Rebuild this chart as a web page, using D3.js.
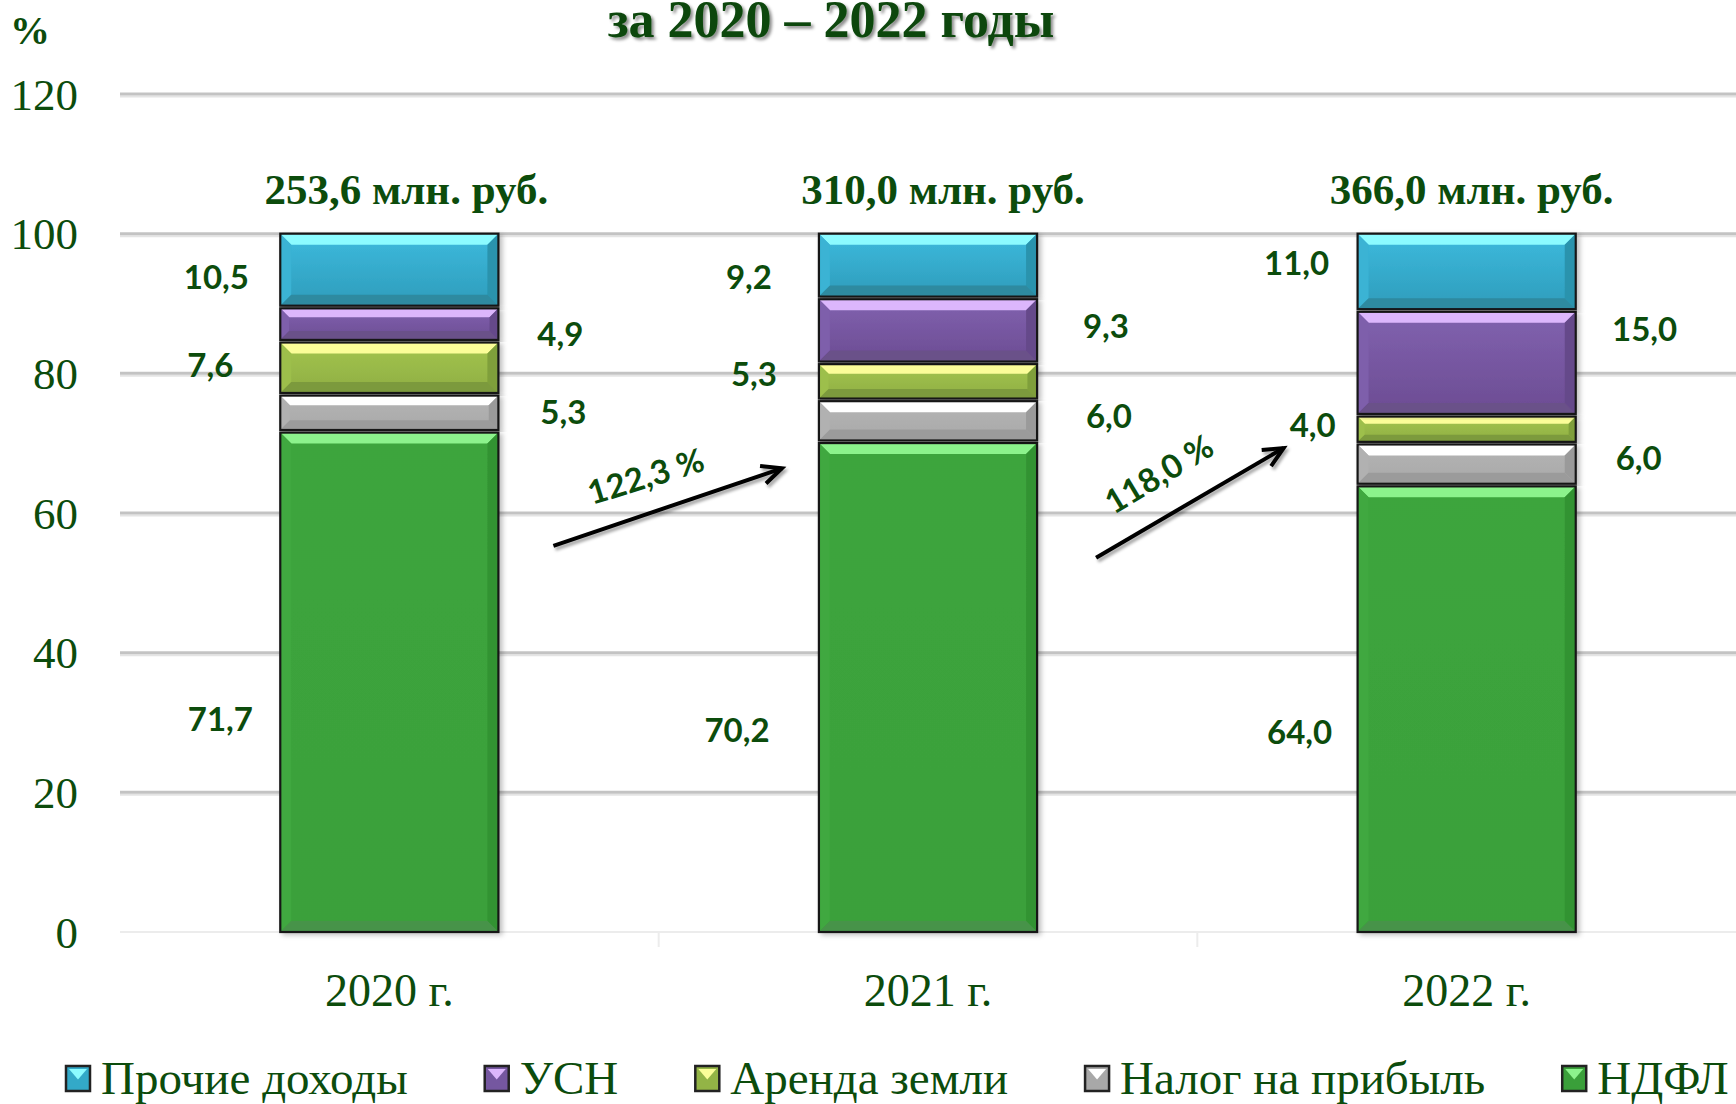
<!DOCTYPE html>
<html><head><meta charset="utf-8">
<script src="https://cdn.jsdelivr.net/npm/d3@7"></script>
<style>body{margin:0;background:#fff} svg{display:block}</style>
</head><body>
<script>
// ---------- data ----------
const years = ['2020 г.', '2021 г.', '2022 г.'];
const seriesNames = ['НДФЛ', 'Налог на прибыль', 'Аренда земли', 'УСН', 'Прочие доходы']; // bottom -> top
const ndfl    = [71.7, 70.2, 64.0];
const nalog   = [5.3, 6.0, 6.0];
const arenda  = [7.6, 5.3, 4.0];
const usn     = [4.9, 9.3, 15.0];
const prochie = [10.5, 9.2, 11.0];
const totals = ['253,6 млн. руб.', '310,0 млн. руб.', '366,0 млн. руб.'];
const growthLabels = ['122,3 %', '118,0 %'];
const yTicks = [0, 20, 40, 60, 80, 100, 120];
const legendOrder = ['Прочие доходы', 'УСН', 'Аренда земли', 'Налог на прибыль', 'НДФЛ'];
const titleText = 'за 2020 – 2022 годы';
const unitText = '%';

// ---------- layout / style ----------
const W = 1736, H = 1104;
const GREEN = '#0c4c0c';
const palette = {
  'Прочие доходы':   {top:'#8cfbff', left:'#3ab3d4', right:'#2a93ad', bottom:'#2f8aa0', c1:'#3dbadd', c2:'#2e9cbb', leg:'#33a9c8'},
  'УСН':             {top:'#dcb6fc', left:'#7e5eab', right:'#654a8a', bottom:'#6a5189', c1:'#8162af', c2:'#6c4c93', leg:'#7557a0'},
  'Аренда земли':    {top:'#fbfd98', left:'#9dbf4b', right:'#7f9f3a', bottom:'#7c9a3e', c1:'#a3c54f', c2:'#8fae42', leg:'#93b446'},
  'Налог на прибыль':{top:'#ffffff', left:'#b1b1b1', right:'#9a9a9a', bottom:'#9b9b9b', c1:'#b4b4b4', c2:'#a9a9a9', leg:'#a8a8a8'},
  'НДФЛ':            {top:'#8cf38c', left:'#3fa83f', right:'#339333', bottom:'#47934a', c1:'#3da53d', c2:'#3aa03a', leg:'#3a9f3a'}
};
// label offsets (px) relative to bar centre (dx) and segment middle (dy), series order bottom->top
const labelDx = [[-169, 174, -179, 171, -173], [-191, 181, -174, 178, -179], [-167, 172, -154, 178, -170]];
const labelDy = [[37, -1, -3, 10, 7], [43, -5, -7, -4, 11], [23.5, -6, -4, -34, -9]];
const totalDx = [17, 15, 5];
// arrows: from bar i to bar i+1, in value space
const arrowSpec = [
  {from:0, v0:55.3, v1:66.4, gap0:55, gap1:37, lab:[-22, -31], rot:-17},
  {from:1, v0:53.6, v1:69.3, gap0:59, gap1:74, lab:[-31, -29], rot:-31}
];

const table = years.map((yr, i) => ({
  year: yr,
  'НДФЛ': ndfl[i], 'Налог на прибыль': nalog[i], 'Аренда земли': arenda[i], 'УСН': usn[i], 'Прочие доходы': prochie[i]
}));

const x = d3.scaleBand().domain(years).range([120, 1736]).paddingInner(0.595).paddingOuter(0.2975);
const y = d3.scaleLinear().domain([0, 120]).range([932, 94]);

const svg = d3.select('body').append('svg').attr('width', W).attr('height', H);
const defs = svg.append('defs');
const fTitle = defs.append('filter').attr('id','tsh').attr('x','-10%').attr('y','-30%').attr('width','120%').attr('height','160%');
fTitle.append('feDropShadow').attr('dx',2.5).attr('dy',2.5).attr('stdDeviation',1.5).attr('flood-color','#000').attr('flood-opacity',0.45);
const fSh = defs.append('filter').attr('id','ash').attr('x','-10%').attr('y','-30%').attr('width','120%').attr('height','160%');
fSh.append('feDropShadow').attr('dx',2).attr('dy',3).attr('stdDeviation',1.5).attr('flood-color','#000').attr('flood-opacity',0.35);
const fBar = defs.append('filter').attr('id','bsh').attr('x','-10%').attr('y','-5%').attr('width','125%').attr('height','110%');
fBar.append('feDropShadow').attr('dx',3).attr('dy',2).attr('stdDeviation',2.5).attr('flood-color','#000').attr('flood-opacity',0.25);

seriesNames.forEach((s, k) => {
  const g = defs.append('linearGradient').attr('id', 'g' + k).attr('x1',0).attr('y1',0).attr('x2',0).attr('y2',1);
  g.append('stop').attr('offset','0%').attr('stop-color', palette[s].c1);
  g.append('stop').attr('offset','100%').attr('stop-color', palette[s].c2);
});

// ---------- grid ----------
const grid = svg.append('g');
yTicks.filter(t => t > 0).forEach(t => {
  grid.append('line').attr('x1',120).attr('x2',W).attr('y1',y(t)+2.5).attr('y2',y(t)+2.5)
    .attr('stroke','#e4e4e4').attr('stroke-width',2);
  grid.append('line').attr('x1',120).attr('x2',W).attr('y1',y(t)).attr('y2',y(t))
    .attr('stroke','#c3c3c3').attr('stroke-width',3);
});
grid.append('line').attr('x1',120).attr('x2',W).attr('y1',y(0)).attr('y2',y(0))
  .attr('stroke','#ececec').attr('stroke-width',2);
years.slice(1).forEach(yr => {
  const xx = x(yr) - x.step() * x.paddingInner() / 2;
  grid.append('line').attr('x1',xx).attr('x2',xx).attr('y1',y(0)).attr('y2',y(0)+15)
    .attr('stroke','#ececec').attr('stroke-width',2);
});

// y tick labels
const yAxis = d3.axisLeft(y).tickValues(yTicks).tickSize(0).tickPadding(0);
const yg = svg.append('g').attr('transform','translate(78,0)').call(yAxis);
yg.select('.domain').remove();
yg.selectAll('text').attr('font-family','"Liberation Serif", serif').attr('font-size',45)
  .attr('fill', GREEN).attr('dy','0.34em');

// x labels
const xAxis = d3.axisBottom(x).tickSize(0).tickPadding(0);
const xg = svg.append('g').attr('transform','translate(0,1006)').call(xAxis);
xg.select('.domain').remove();
xg.selectAll('text').attr('font-family','"Liberation Serif", serif').attr('font-size',46)
  .attr('fill', GREEN).attr('dy', 0);

// ---------- bars ----------
const stack = d3.stack().keys(seriesNames)(table);
const bars = svg.append('g');

function bevelSeg(g, x0, y0, w, h, pal, k) {
  const b = Math.min(11, h * 0.28);
  const x1 = x0 + w, y1 = y0 + h;
  g.append('rect').attr('x',x0).attr('y',y0).attr('width',w).attr('height',h).attr('fill','url(#g'+k+')');
  g.append('polygon').attr('points',[[x0,y0],[x1,y0],[x1-b,y0+b],[x0+b,y0+b]].join(' ')).attr('fill',pal.top);
  g.append('polygon').attr('points',[[x0,y0],[x0+b,y0+b],[x0+b,y1-b],[x0,y1]].join(' ')).attr('fill',pal.left);
  g.append('polygon').attr('points',[[x1,y0],[x1,y1],[x1-b,y1-b],[x1-b,y0+b]].join(' ')).attr('fill',pal.right);
  g.append('polygon').attr('points',[[x0,y1],[x1,y1],[x1-b,y1-b],[x0+b,y1-b]].join(' ')).attr('fill',pal.bottom);
  g.append('rect').attr('x',x0).attr('y',y0).attr('width',w).attr('height',h)
    .attr('fill','none').attr('stroke','#151515').attr('stroke-width',2.2);
}

stack.forEach((layer, k) => {
  const s = seriesNames[k];
  layer.forEach((d, i) => {
    const yr = years[i];
    const top = y(d[1]), bot = y(d[0]);
    const g = bars.append('g').attr('filter', 'url(#bsh)');
    const inset = 1.3;
    const y0 = top + (d[1] >= 100 ? 0 : inset);
    const y1 = bot - (d[0] <= 0 ? 0 : inset);
    bevelSeg(g, x(yr), y0, x.bandwidth(), y1 - y0, palette[s], k);
  });
});

// data labels
const fmt = v => v.toFixed(1).replace('.', ',');
const lab = svg.append('g');
stack.forEach((layer, k) => {
  layer.forEach((d, i) => {
    const cx = x(years[i]) + x.bandwidth() / 2 + labelDx[i][k];
    const cy = y((d[0] + d[1]) / 2) + labelDy[i][k];
    lab.append('text').attr('x', cx).attr('y', cy + 12).attr('text-anchor','middle')
      .attr('font-family','Lato, "Open Sans", sans-serif').attr('font-weight',700).attr('font-size',33)
      .attr('fill', GREEN).text(fmt(d.data[seriesNames[k]]));
  });
});

// totals above bars
years.forEach((yr, i) => {
  svg.append('text').attr('x', x(yr) + x.bandwidth()/2 + totalDx[i]).attr('y', 204)
    .attr('text-anchor','middle').attr('font-family','"Liberation Serif", serif').attr('font-weight',700)
    .attr('font-size',43).attr('fill', GREEN).text(totals[i]);
});

// arrows
arrowSpec.forEach((a, j) => {
  const xs = x(years[a.from]) + x.bandwidth() + a.gap0;
  const xe = x(years[a.from + 1]) - a.gap1;
  const ys = y(a.v0), ye = y(a.v1);
  const ang = Math.atan2(ye - ys, xe - xs);
  const L = 22, sp = 25 * Math.PI / 180;
  const p1 = [xe - L * Math.cos(ang - sp), ye - L * Math.sin(ang - sp)];
  const p2 = [xe - L * Math.cos(ang + sp), ye - L * Math.sin(ang + sp)];
  const g = svg.append('g').attr('filter','url(#ash)');
  g.append('line').attr('x1',xs).attr('y1',ys).attr('x2',xe).attr('y2',ye)
    .attr('stroke','#000').attr('stroke-width',4);
  g.append('path').attr('d', `M${p1[0]},${p1[1]} L${xe},${ye} L${p2[0]},${p2[1]}`)
    .attr('fill','none').attr('stroke','#000').attr('stroke-width',4).attr('stroke-linejoin','miter');
  const mx = (xs + xe) / 2 + a.lab[0], my = (ys + ye) / 2 + a.lab[1];
  svg.append('text').attr('transform', `translate(${mx},${my}) rotate(${a.rot})`)
    .attr('text-anchor','middle').attr('y', 12)
    .attr('font-family','Lato, "Open Sans", sans-serif').attr('font-weight',700).attr('font-size',33)
    .attr('fill', GREEN).text(growthLabels[j]);
});

// title and unit
svg.append('text').attr('x', 831).attr('y', 37).attr('text-anchor','middle')
  .attr('font-family','"Liberation Serif", serif').attr('font-weight',700).attr('font-size',52)
  .attr('fill','#0a470a').attr('filter','url(#tsh)').text(titleText);
svg.append('text').attr('x', 10).attr('y', 44)
  .attr('font-family','"Liberation Serif", serif').attr('font-weight',700).attr('font-size',40)
  .attr('fill', GREEN).text(unitText);

// legend
const leg = svg.append('g');
let lx = 66;
legendOrder.forEach(s => {
  const pal = palette[s];
  const mw = 24, mh = 25, my = 1066;
  leg.append('rect').attr('x', lx).attr('y', my).attr('width', mw).attr('height', mh)
    .attr('fill', pal.leg).attr('stroke', '#222').attr('stroke-width', 2.5);
  leg.append('polygon').attr('points', [[lx+3, my+3], [lx+mw-3, my+3], [lx+mw/2, my+mh/2+1]].join(' '))
    .attr('fill', pal.top);
  const t = leg.append('text').attr('x', lx + mw + 11).attr('y', 1094)
    .attr('font-family','"Liberation Serif", serif').attr('font-size',47).attr('fill', GREEN).text(s);
  lx = lx + mw + 11 + t.node().getComputedTextLength() + 77;
});
</script>
</body></html>
